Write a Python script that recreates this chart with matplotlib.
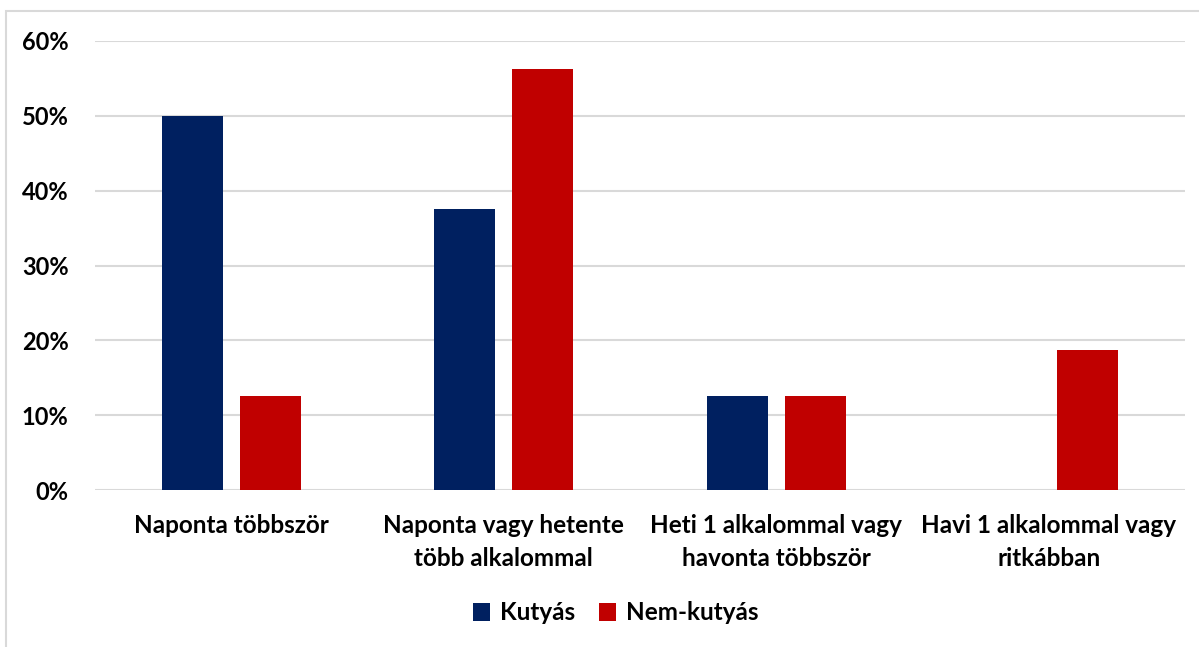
import numpy as np
import matplotlib.pyplot as plt
from matplotlib.patches import Rectangle
from matplotlib.ticker import PercentFormatter

categories = ["Naponta többször", "Naponta vagy hetente\ntöbb alkalommal",
              "Heti 1 alkalommal vagy\nhavonta többször", "Havi 1 alkalommal vagy\nritkábban"]
kutyas = [50.0, 37.5, 12.5, 0.0]
nem_kutyas = [12.5, 56.25, 12.5, 18.75]

plt.rcParams['font.family'] = ['Lato', 'DejaVu Sans']
plt.rcParams['font.weight'] = 'bold'

fig = plt.figure(figsize=(11.99, 6.47), dpi=100)
fig.patches.append(Rectangle((6 / 1199, -0.1), 1.2, 1 - 11 / 647 + 0.1, transform=fig.transFigure,
                             fill=False, edgecolor='#d9d9d9', linewidth=1.5))
ax = fig.add_axes([95 / 1199, 1 - 490 / 647, 1090 / 1199, 449 / 647])

x = np.arange(len(categories))
w = 0.224
ax.bar(x - 0.143, kutyas, w, color='#002060', label='Kutyás', zorder=3)
ax.bar(x + 0.143, nem_kutyas, w, color='#C00000', label='Nem-kutyás', zorder=3)

ax.set_xlim(-0.5, len(categories) - 0.5)
ax.set_ylim(0, 60)
ax.set_yticks(np.arange(0, 61, 10))
ax.yaxis.set_major_formatter(PercentFormatter(decimals=0))
ax.grid(axis='y', color='#d9d9d9', linewidth=1.5, zorder=0)
for s in ax.spines.values():
    s.set_visible(False)
ax.tick_params(axis='both', length=0, labelsize=17)
ax.tick_params(axis='y', pad=19)
ax.tick_params(axis='x', pad=17)
ax.set_xticks(x)
ax.set_xticklabels(categories, fontsize=17.5, linespacing=1.55)

fig.legend(loc='center', bbox_to_anchor=(616 / 1199, 1 - 613 / 647), ncol=2, frameon=False,
           fontsize=17.5, handlelength=0.7, handleheight=0.7, handletextpad=0.4, columnspacing=1.0)

fig.savefig('out.png', dpi=100)
